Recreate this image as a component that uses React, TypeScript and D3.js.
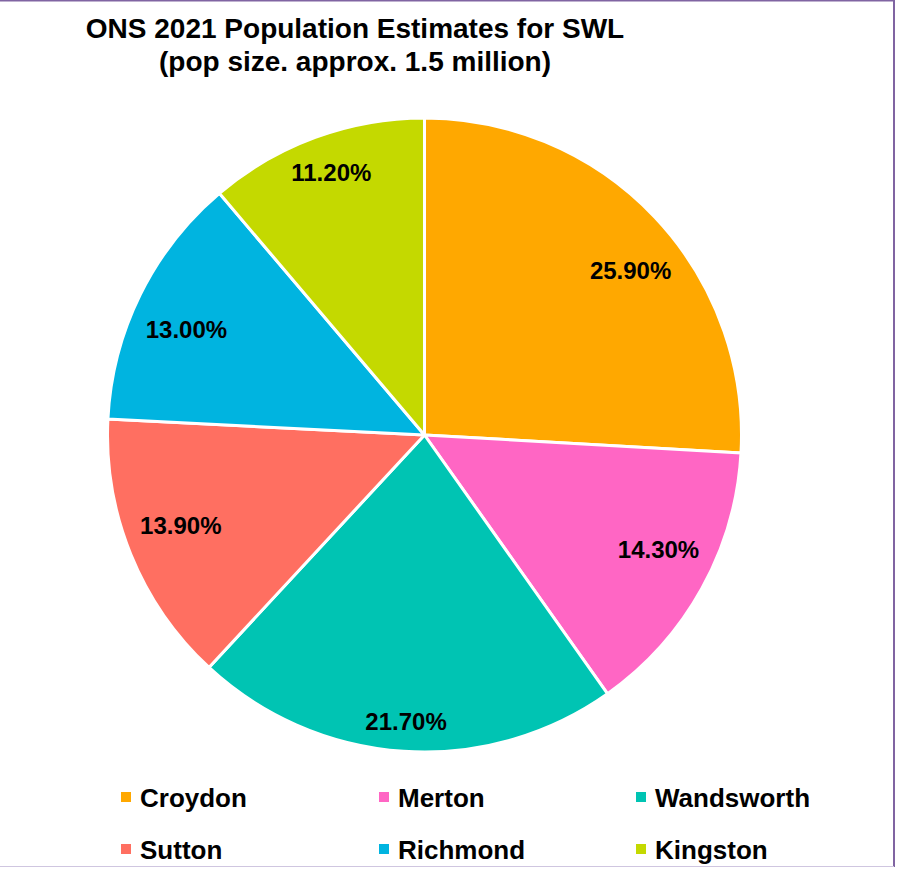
import React, { useEffect, useRef } from "react";
import * as d3 from "d3";

const categories = ["Croydon", "Merton", "Wandsworth", "Sutton", "Richmond", "Kingston"];
const shares = [25.9, 14.3, 21.7, 13.9, 13.0, 11.2];
const colors = ["#FFA800", "#FF66C4", "#00C4B3", "#FF6F61", "#00B4E0", "#C4D900"];
const titleLines = ["ONS 2021 Population Estimates for SWL", "(pop size. approx. 1.5 million)"];

const W = 898;
const H = 871;
const FONT = "'Liberation Sans', Arial, sans-serif";

export default function App() {
  const ref = useRef<SVGSVGElement | null>(null);

  useEffect(() => {
    const svg = d3.select(ref.current);
    svg.selectAll("*").remove();

    // frame
    svg.append("rect").attr("x", 0).attr("y", 0).attr("width", W).attr("height", H).attr("fill", "#fff");
    svg.append("line").attr("x1", 0).attr("x2", 895).attr("y1", 0.75).attr("y2", 0.75)
      .attr("stroke", "#8064A2").attr("stroke-width", 1.5);
    svg.append("line").attr("x1", 894).attr("x2", 894).attr("y1", 0).attr("y2", 867)
      .attr("stroke", "#8064A2").attr("stroke-width", 2);
    svg.append("line").attr("x1", 0).attr("x2", 894).attr("y1", 866.5).attr("y2", 866.5)
      .attr("stroke", "#CFC6E0").attr("stroke-width", 1);

    // title
    const title = svg.append("text").attr("text-anchor", "middle")
      .attr("font-family", FONT).attr("font-weight", "bold").attr("font-size", 28).attr("fill", "#000");
    titleLines.forEach((t, i) => {
      title.append("tspan").attr("x", 355).attr("y", 38 + i * 33).text(t);
    });

    // pie
    const cx = 424.5, cy = 435, R = 317;
    const pie = d3.pie<number>().sort(null).value((d) => d);
    const arcs = pie(shares);
    const arcGen = d3.arc<d3.PieArcDatum<number>>().innerRadius(0).outerRadius(R);
    const g = svg.append("g").attr("transform", `translate(${cx},${cy})`);
    g.selectAll("path").data(arcs).enter().append("path")
      .attr("d", arcGen as any)
      .attr("fill", (_d, i) => colors[i])
      .attr("stroke", "#fff").attr("stroke-width", 3).attr("stroke-linejoin", "round");

    // labels (inside end, anchored by sector)
    const limit = R - 16;
    const h = 16;
    arcs.forEach((a, i) => {
      const txt = g.append("text").attr("text-anchor", "middle")
        .attr("font-family", FONT).attr("font-weight", "bold").attr("font-size", 24)
        .attr("fill", "#000").text(shares[i].toFixed(2) + "%");
      const w = (txt.node() as SVGTextElement).getComputedTextLength();
      const mid = (a.startAngle + a.endAngle) / 2;
      const dx = Math.sin(mid), dy = -Math.cos(mid);
      let ax = 0, ay = 0;
      if (Math.abs(dy) >= Math.cos(Math.PI / 6)) {
        ay = -Math.sign(dy) * h / 2;
      } else if (Math.abs(dx) >= Math.cos(Math.PI / 18)) {
        ax = -Math.sign(dx) * w / 2;
      } else {
        ax = -Math.sign(dx) * w / 2;
        ay = -Math.sign(dy) * h / 2;
      }
      let lo = 0, hi = R;
      for (let k = 0; k < 40; k++) {
        const d = (lo + hi) / 2;
        const px = d * dx - ax, py = d * dy - ay;
        let ok = true;
        for (const sx of [-1, 1]) for (const sy of [-1, 1]) {
          const qx = px + sx * w / 2, qy = py + sy * h / 2;
          if (Math.hypot(qx, qy) > limit) ok = false;
        }
        if (ok) lo = d; else hi = d;
      }
      txt.attr("x", lo * dx - ax).attr("y", lo * dy - ay + h / 2);
    });

    // legend
    const colX = [121, 379, 636];
    const rowY = [797, 849];
    categories.forEach((c, i) => {
      const x = colX[i % 3], y = rowY[Math.floor(i / 3)];
      svg.append("rect").attr("x", x).attr("y", y - 5).attr("width", 10).attr("height", 10).attr("fill", colors[i]);
      svg.append("text").attr("x", x + 19).attr("y", y + 9.5)
        .attr("font-family", FONT).attr("font-weight", "bold").attr("font-size", 26).attr("fill", "#000").text(c);
    });
  }, []);

  return (
    <div style={{ position: "absolute", left: 0, top: 0 }}>
      <svg ref={ref} width={W} height={H} style={{ display: "block" }} />
    </div>
  );
}
